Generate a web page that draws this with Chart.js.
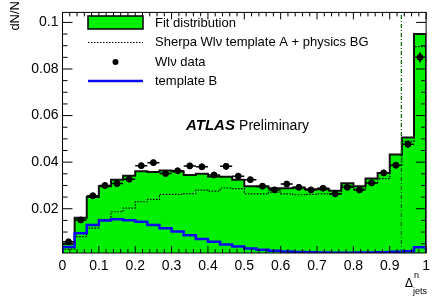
<!DOCTYPE html>
<html>
<head>
<meta charset="utf-8">
<script src="https://cdn.jsdelivr.net/npm/chart.js@4"></script>
<style>
  body { margin: 0; background: #fff; }
  canvas { display: block; }
</style>
</head>
<body>
<canvas id="chart" width="435" height="301"></canvas>
<script>
// 30 bins between 0 and 1
const nBins = 30;
const binEdges = Array.from({ length: nBins + 1 }, (_, i) => i / nBins);

const fitVals = [
  0.0050, 0.0161, 0.0250, 0.0297, 0.0325, 0.0342, 0.0361, 0.0358, 0.0364, 0.0360,
  0.0345, 0.0350, 0.0338, 0.0337, 0.0324, 0.0297, 0.0295, 0.0288, 0.0288, 0.0290,
  0.0284, 0.0284, 0.0277, 0.0309, 0.0297, 0.0330, 0.0353, 0.0433, 0.0506, 0.0950,
];
const templateAVals = [
  0.0027, 0.0080, 0.0117, 0.0155, 0.0187, 0.0203, 0.0230, 0.0240, 0.0262, 0.0262,
  0.0265, 0.0280, 0.0276, 0.0289, 0.0286, 0.0264, 0.0264, 0.0271, 0.0264, 0.0260,
  0.0262, 0.0264, 0.0262, 0.0299, 0.0285, 0.0311, 0.0329, 0.0385, 0.0489, 0.0896,
];
const templateBVals = [
  0.0036, 0.0095, 0.0130, 0.0149, 0.0155, 0.0151, 0.0144, 0.0130, 0.0116, 0.0102,
  0.0086, 0.0070, 0.0058, 0.0046, 0.0038, 0.0029, 0.0024, 0.0020, 0.0016, 0.0014,
  0.0013, 0.0012, 0.0011, 0.0011, 0.0012, 0.0012, 0.0013, 0.0015, 0.0018, 0.0035,
];
const dataVals = [
  0.0058, 0.0152, 0.0256, 0.0300, 0.0308, 0.0327, 0.0385, 0.0398, 0.0351, 0.0363,
  0.0384, 0.0380, 0.0345, 0.0382, 0.0340, 0.0325, 0.0297, 0.0281, 0.0306, 0.0292,
  0.0281, 0.0288, 0.0264, 0.0292, 0.0281, 0.0311, 0.0354, 0.0387, 0.0477, 0.0850,
];
const dataErr = [
  0.0006, 0.0009, 0.0011, 0.0012, 0.0012, 0.0012, 0.0013, 0.0013, 0.0012, 0.0012,
  0.0013, 0.0013, 0.0012, 0.0013, 0.0012, 0.0012, 0.0011, 0.0011, 0.0011, 0.0011,
  0.0011, 0.0011, 0.0011, 0.0011, 0.0011, 0.0012, 0.0013, 0.0014, 0.0016, 0.0022,
];
const cutValue = 0.932;

const xTickVals = [0, 0.1, 0.2, 0.3, 0.4, 0.5, 0.6, 0.7, 0.8, 0.9, 1];
const xTickLabels = ['0', '0.1', '0.2', '0.3', '0.4', '0.5', '0.6', '0.7', '0.8', '0.9', '1'];
const yTickVals = [0.02, 0.04, 0.06, 0.08, 0.1];
const yTickLabels = ['0.02', '0.04', '0.06', '0.08', '0.1'];

const yMin = 0.001;
const yMax = 0.1043;
const FONT = '"Liberation Sans", Arial, Helvetica, sans-serif';
const GREEN = '#00f000';

// histogram outline as a stepped line that starts and ends on the frame
function histPoints(vals) {
  const pts = [{ x: 0, y: yMin }];
  vals.forEach((v, i) => pts.push({ x: binEdges[i], y: v }));
  pts.push({ x: 1, y: vals[vals.length - 1] });
  pts.push({ x: 1, y: yMin });
  return pts;
}

const dataPoints = dataVals.map((v, i) => ({ x: (binEdges[i] + binEdges[i + 1]) / 2, y: v }));

const errorBars = {
  id: 'errorBars',
  afterDatasetsDraw(chart) {
    const { ctx, scales: { x, y } } = chart;
    ctx.save();
    ctx.strokeStyle = '#000';
    ctx.lineWidth = 1.5;
    ctx.beginPath();
    dataVals.forEach((v, i) => {
      const py = y.getPixelForValue(v);
      ctx.moveTo(x.getPixelForValue(binEdges[i]), py);
      ctx.lineTo(x.getPixelForValue(binEdges[i + 1]), py);
      const px = x.getPixelForValue((binEdges[i] + binEdges[i + 1]) / 2);
      ctx.moveTo(px, y.getPixelForValue(v - dataErr[i]));
      ctx.lineTo(px, y.getPixelForValue(v + dataErr[i]));
    });
    ctx.stroke();
    ctx.restore();
  },
};

const frameAndDecor = {
  id: 'frameAndDecor',
  afterDraw(chart) {
    const { ctx, chartArea: a, scales: { x, y } } = chart;
    ctx.save();
    ctx.strokeStyle = '#000';
    ctx.lineWidth = 1;
    ctx.strokeRect(a.left, a.top, a.right - a.left, a.bottom - a.top);

    // inside ticks, ROOT style
    ctx.beginPath();
    for (let k = 0; k <= 50; k++) {
      const px = x.getPixelForValue(k / 50);
      const major = k % 5 === 0;
      ctx.moveTo(px, a.bottom);
      ctx.lineTo(px, a.bottom - (major ? 7 : 4));
      ctx.moveTo(px, a.top);
      ctx.lineTo(px, a.top + (major ? 7 : 4));
    }
    for (let k = 1; k <= 20; k++) {
      const py = y.getPixelForValue(k * 0.005);
      const major = k % 4 === 0;
      ctx.moveTo(a.left, py);
      ctx.lineTo(a.left + (major ? 10 : 5), py);
      ctx.moveTo(a.right, py);
      ctx.lineTo(a.right - (major ? 10 : 5), py);
    }
    ctx.stroke();

    // legend
    ctx.fillStyle = GREEN;
    ctx.fillRect(88, 16, 55, 13);
    ctx.lineWidth = 1.5;
    ctx.strokeRect(88, 16, 55, 13);

    ctx.lineWidth = 1.2;
    ctx.setLineDash([1.5, 1.5]);
    ctx.beginPath();
    ctx.moveTo(88, 42.5);
    ctx.lineTo(143, 42.5);
    ctx.stroke();
    ctx.setLineDash([]);

    ctx.fillStyle = '#000';
    ctx.beginPath();
    ctx.arc(115.5, 62, 3, 0, Math.PI * 2);
    ctx.fill();

    ctx.strokeStyle = '#0a0af0';
    ctx.lineWidth = 2.5;
    ctx.beginPath();
    ctx.moveTo(88, 81);
    ctx.lineTo(143, 81);
    ctx.stroke();

    ctx.fillStyle = '#000';
    ctx.font = '13px ' + FONT;
    ctx.textBaseline = 'middle';
    ctx.textAlign = 'left';
    ctx.fillText('Fit distribution', 155, 23);
    ctx.fillText('Sherpa Wlν template A + physics BG', 155, 42);
    ctx.fillText('Wlν data', 155, 62);
    ctx.fillText('template B', 155, 81);

    // ATLAS label
    ctx.font = 'italic bold 15px ' + FONT;
    ctx.fillText('ATLAS', 186, 126);
    const w = ctx.measureText('ATLAS ').width;
    ctx.font = '14px ' + FONT;
    ctx.fillText('Preliminary', 186 + w, 126);

    // axis titles
    ctx.save();
    ctx.translate(15, 1);
    ctx.rotate(-Math.PI / 2);
    ctx.font = '13px ' + FONT;
    ctx.textAlign = 'right';
    ctx.fillText('dN/N', 0, 0);
    ctx.restore();

    ctx.textAlign = 'left';
    ctx.font = '12px ' + FONT;
    ctx.fillText('Δ', 405, 284);
    ctx.font = '9px ' + FONT;
    ctx.fillText('n', 414, 276);
    ctx.fillText('jets', 413, 292);
    ctx.restore();
  },
};

new Chart(document.getElementById('chart'), {
  type: 'scatter',
  data: {
    datasets: [
      {
        type: 'line',
        data: histPoints(fitVals),
        stepped: 'before',
        fill: 'start',
        backgroundColor: GREEN,
        borderColor: '#111',
        borderWidth: 2,
        pointRadius: 0,
        order: 5,
      },
      {
        type: 'line',
        data: histPoints(templateAVals),
        stepped: 'before',
        borderColor: '#000',
        borderWidth: 1.2,
        borderDash: [1.5, 1.5],
        pointRadius: 0,
        order: 4,
      },
      {
        type: 'line',
        data: histPoints(templateBVals),
        stepped: 'before',
        borderColor: '#0a0af0',
        borderWidth: 2.5,
        pointRadius: 0,
        order: 3,
      },
      {
        type: 'line',
        data: [{ x: cutValue, y: yMin }, { x: cutValue, y: yMax }],
        borderColor: '#0b6e0b',
        borderWidth: 1.3,
        borderDash: [4, 2, 1, 2],
        pointRadius: 0,
        order: 2,
      },
      {
        data: dataPoints,
        showLine: false,
        pointRadius: 3,
        pointBackgroundColor: '#000',
        pointBorderColor: '#000',
        order: 1,
      },
    ],
  },
  options: {
    responsive: false,
    animation: false,
    events: [],
    layout: { padding: { top: 5, right: 4, left: 0, bottom: 0 } },
    plugins: {
      legend: { display: false },
      tooltip: { enabled: false },
    },
    scales: {
      x: {
        type: 'linear',
        min: 0,
        max: 1,
        grid: { display: false, drawTicks: false },
        border: { display: false },
        afterBuildTicks: scale => {
          scale.ticks = xTickVals.map(v => ({ value: v }));
        },
        afterFit: scale => {
          scale.height = 48;
        },
        ticks: {
          padding: 5,
          color: '#000',
          font: { family: FONT, size: 14 },
          maxRotation: 0,
          autoSkip: false,
          callback: (v, i) => xTickLabels[i],
        },
      },
      y: {
        type: 'linear',
        min: yMin,
        max: yMax,
        grid: { display: false, drawTicks: false },
        border: { display: false },
        afterBuildTicks: scale => {
          scale.ticks = yTickVals.map(v => ({ value: v }));
        },
        afterFit: scale => {
          scale.width = 62.5;
        },
        ticks: {
          padding: 4,
          color: '#000',
          font: { family: FONT, size: 14 },
          callback: (v, i) => yTickLabels[i],
        },
      },
    },
  },
  plugins: [errorBars, frameAndDecor],
});
</script>
</body>
</html>
